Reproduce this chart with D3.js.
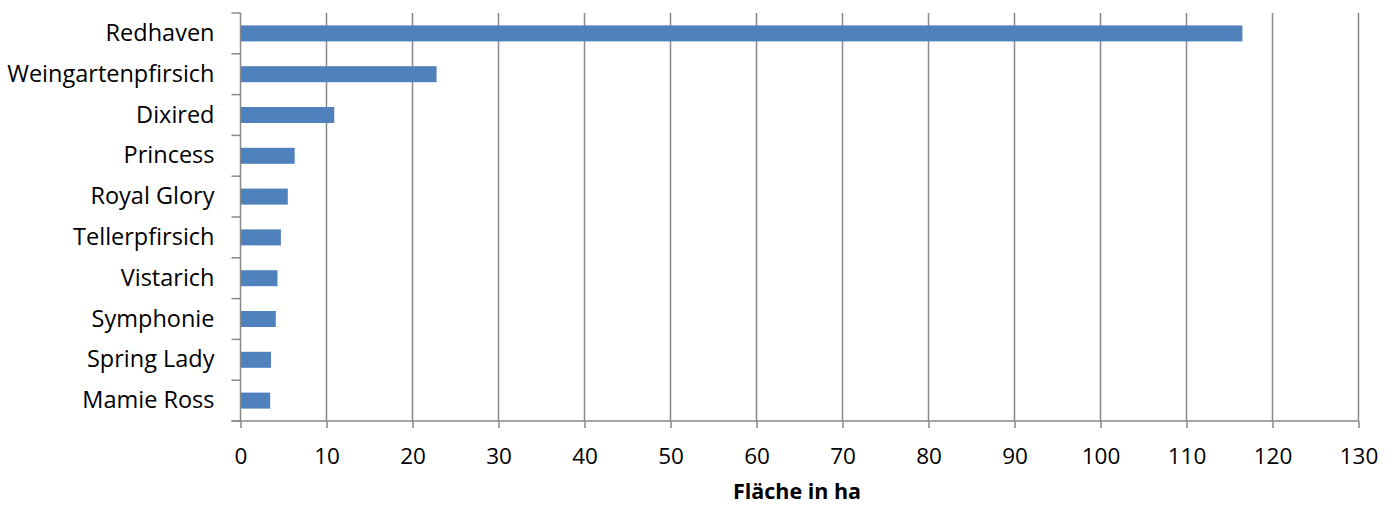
<!DOCTYPE html>
<html><head><meta charset="utf-8">
<script src="https://cdn.jsdelivr.net/npm/d3@7"></script>
<style>body{margin:0;background:#fff}svg{display:block}text{font-family:"Open Sans",sans-serif;fill:#000}</style>
</head><body>
<script>
const categories = ["Redhaven","Weingartenpfirsich","Dixired","Princess","Royal Glory","Tellerpfirsich","Vistarich","Symphonie","Spring Lady","Mamie Ross"];
const values = [116.5, 22.8, 10.9, 6.3, 5.5, 4.7, 4.3, 4.1, 3.55, 3.45];
const xTicks = [0,10,20,30,40,50,60,70,80,90,100,110,120,130];
const xTitle = "Fläche in ha";

const W = 1398, H = 506;
const mLeft = 240.5, mRight = 1358.5, mTop = 13, mBottom = 421;
const svg = d3.select("body").append("svg").attr("width", W).attr("height", H);
const x = d3.scaleLinear().domain([0,130]).range([mLeft, mRight]);
const yb = d3.scaleBand().domain(categories).range([mTop, mBottom]);

// gridlines
svg.append("g").selectAll("line").data(xTicks.slice(1)).join("line")
  .attr("x1", d => x(d)).attr("x2", d => x(d)).attr("y1", mTop).attr("y2", mBottom)
  .attr("stroke", "#888").attr("stroke-width", 1.5);

// bars
svg.append("g").selectAll("rect").data(values).join("rect")
  .attr("x", x(0)).attr("y", (d,i) => yb(categories[i]) + yb.bandwidth()/2 - 8)
  .attr("width", d => x(d) - x(0)).attr("height", 16)
  .attr("fill", "#4F81BD");

// x axis
const xa = svg.append("g").attr("transform", `translate(0,${mBottom})`)
  .call(d3.axisBottom(x).tickValues(xTicks).tickSize(7).tickPadding(20).tickFormat(d3.format("d")));
xa.select(".domain").attr("stroke", "#888").attr("stroke-width", 1.5).attr("d", `M${mLeft-9},0H${mRight}`);
xa.selectAll(".tick line").attr("stroke", "#888").attr("stroke-width", 1.5);
xa.selectAll("text").attr("font-size", 22.5).attr("font-family", '"Open Sans",sans-serif').attr("fill","#000");

// y axis
const ya = svg.append("g").attr("transform", `translate(${mLeft},0)`)
  .call(d3.axisLeft(yb).tickSize(0).tickPadding(26));
ya.select(".domain").attr("stroke", "#888").attr("stroke-width", 1.5).attr("d", `M0,${mTop}V${mBottom}`);
ya.selectAll("text").attr("font-size", 23.5).attr("font-family", '"Open Sans",sans-serif').attr("fill","#000");
// category boundary ticks
svg.append("g").selectAll("line").data(d3.range(categories.length + 1)).join("line")
  .attr("x1", mLeft - 9).attr("x2", mLeft)
  .attr("y1", i => mTop + i * yb.step()).attr("y2", i => mTop + i * yb.step())
  .attr("stroke", "#888").attr("stroke-width", 1.5);

svg.append("text").attr("x", 797).attr("y", 499)
  .attr("text-anchor", "middle").attr("font-size", 21.5).attr("font-weight", "bold").text(xTitle);
</script>
</body></html>
